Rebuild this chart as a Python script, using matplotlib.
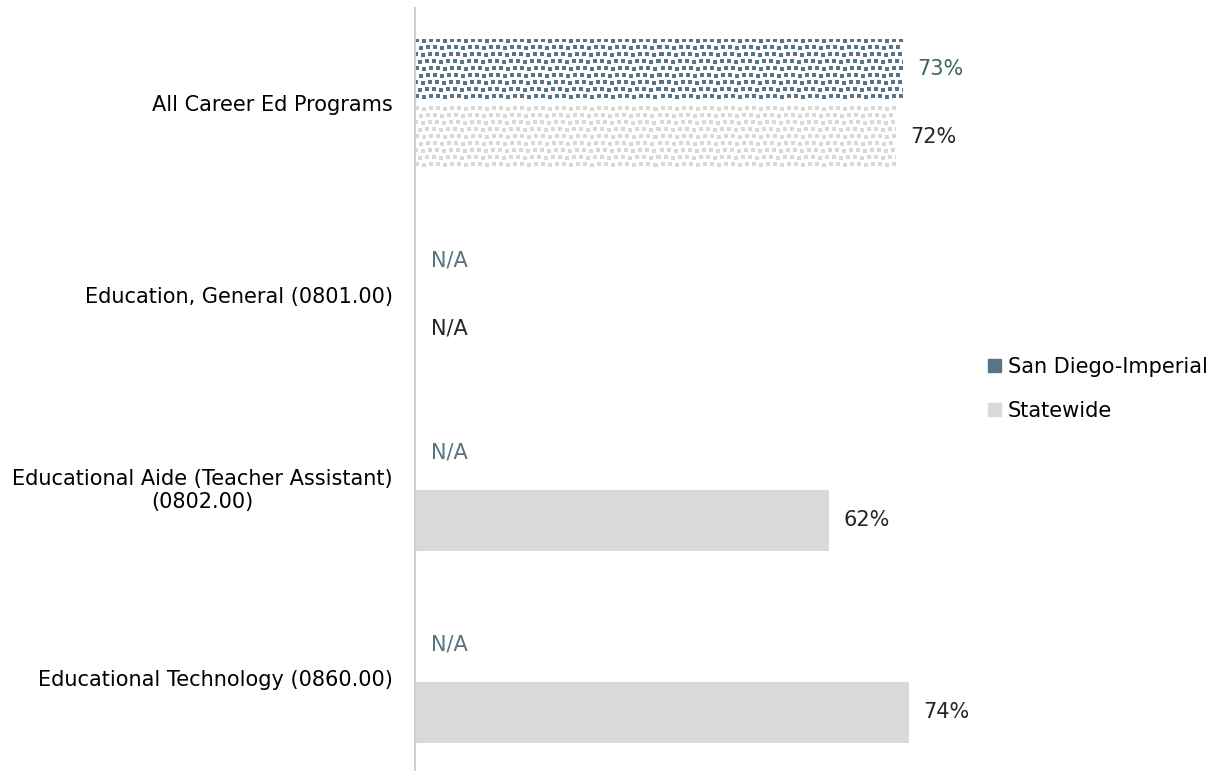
import numpy as np
import matplotlib.pyplot as plt
from matplotlib.colors import to_rgb
from matplotlib.patches import Patch

# chart data
categories = ['All Career Ed Programs',
              'Education, General (0801.00)',
              'Educational Aide (Teacher Assistant)\n(0802.00)',
              'Educational Technology (0860.00)']
series = ['San Diego-Imperial', 'Statewide']
region_vals = [73, None, None, None]
state_vals = [72, None, 62, 74]

region_color = '#587485'
state_color = '#D9D9D9'
region_label_color = '#3B6657'
region_na_color = '#587485'
state_label_color = '#262626'

plt.rcParams['font.family'] = ['DejaVu Sans']
plt.rcParams['font.size'] = 15

fig = plt.figure(figsize=(12.21, 7.71), dpi=100)
ax = fig.add_axes([0.34, 0.0, 0.459, 0.99])
ax.set_xlim(0, 84)
ax.set_ylim(3.4825, -0.4955)

y = np.arange(len(categories))
off = 0.176
h = 0.316


def pattern_fill(ax, rect, color, bg='white'):
    # small staggered squares, like the office "confetti" fill
    x0, y0 = rect.get_x(), rect.get_y()
    w, hh = rect.get_width(), rect.get_height()
    (px0, py0), (px1, py1) = ax.transData.transform([(x0, y0), (x0 + w, y0 + hh)])
    nx, ny = int(round(abs(px1 - px0))), int(round(abs(py1 - py0)))
    rr, cc = np.mgrid[0:ny, 0:nx]
    row = rr // 7
    shift = np.choose(row % 4, [0, 3, 1, 4])
    col = (cc + shift) // 7
    jit = (col % 3 == 1).astype(int)
    mask = (((cc + shift) % 7) < 4) & (((rr - jit) % 7) < 4)
    img = np.where(mask[..., None], np.array(to_rgb(color)), np.array(to_rgb(bg)))
    im = ax.imshow(img, extent=(x0, x0 + w, y0 + hh, y0), aspect='auto',
                   interpolation='none', zorder=2)
    im.set_clip_path(rect)


for i, (rv, sv) in enumerate(zip(region_vals, state_vals)):
    yr = y[i] - off
    ys = y[i] + off
    hatched = (i == 0)
    if rv is not None:
        b = ax.barh(yr, rv, height=h, color='white' if hatched else region_color,
                    linewidth=0, zorder=1)[0]
        if hatched:
            pattern_fill(ax, b, region_color)
        ax.text(rv + 2.2, yr, f'{rv}%', va='center', ha='left', color=region_label_color)
    else:
        ax.text(2.4, yr, 'N/A', va='center', ha='left', color=region_na_color)
    if sv is not None:
        b = ax.barh(ys, sv, height=h, color='white' if hatched else state_color,
                    linewidth=0, zorder=1)[0]
        if hatched:
            pattern_fill(ax, b, state_color)
        ax.text(sv + 2.2, ys, f'{sv}%', va='center', ha='left', color=state_label_color)
    else:
        ax.text(2.4, ys, 'N/A', va='center', ha='left', color=state_label_color)

ax.set_xlim(0, 84)
ax.set_ylim(3.4825, -0.4955)
ax.set_yticks(y)
ax.set_yticklabels(categories, multialignment='center', color='#000000')
ax.tick_params(axis='y', length=0, pad=16)
ax.set_xticks([])
for s in ['top', 'right', 'bottom']:
    ax.spines[s].set_visible(False)
ax.spines['left'].set_color('#D0D0D0')
ax.spines['left'].set_linewidth(1.5)

handles = [Patch(color=region_color), Patch(color=state_color)]
fig.legend(handles, series, loc='center left', bbox_to_anchor=(988 / 1221, 1 - 389 / 771),
           frameon=False, handlelength=0.6, handleheight=0.6, handletextpad=0.35,
           labelspacing=1.15, borderaxespad=0, borderpad=0)

fig.savefig('out.png', dpi=100)
